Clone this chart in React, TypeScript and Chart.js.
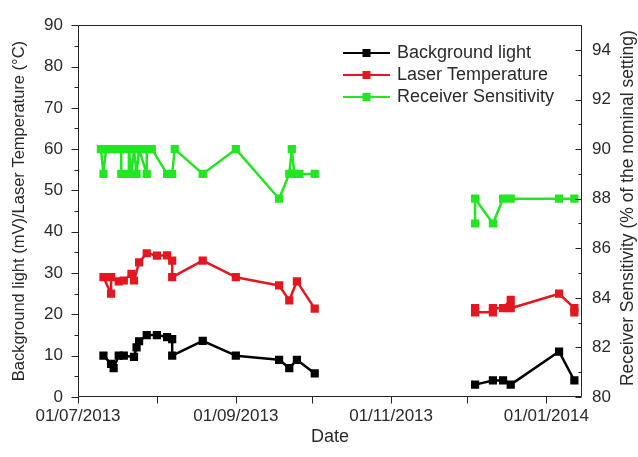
import React, { useEffect, useRef } from 'react';
import { Chart, registerables } from 'chart.js';

Chart.register(...registerables);

// ---------- data ----------
const START_DATE = '2013-07-01';
const END_DATE = '2014-01-15';

const xTickDates = ['2013-07-01', '2013-08-01', '2013-09-01', '2013-10-01', '2013-11-01', '2013-12-01', '2014-01-01'];
const xLabelDates = ['2013-07-01', '2013-09-01', '2013-11-01', '2014-01-01'];
const leftTicks = [0, 10, 20, 30, 40, 50, 60, 70, 80, 90];
const rightTicks = [80, 82, 84, 86, 88, 90, 92, 94];

const xTitle = 'Date';
const leftTitle = 'Background light (mV)/Laser Temperature (°C)';
const rightTitle = 'Receiver Sensitivity (% of the nominal setting)';

const seriesNames = ['Background light', 'Laser Temperature', 'Receiver Sensitivity'];
const seriesColors = ['#000000', '#e3171f', '#22e622'];

const bgDates = ['2013-07-11', '2013-07-14', '2013-07-15', '2013-07-17', '2013-07-19', '2013-07-23', '2013-07-24', '2013-07-25', '2013-07-28', '2013-08-01', '2013-08-05', '2013-08-07', '2013-08-07', '2013-08-19', '2013-09-01', '2013-09-18', '2013-09-22', '2013-09-25', '2013-10-02', '2013-12-04', '2013-12-11', '2013-12-15', '2013-12-18', '2014-01-06', '2014-01-12'];
const bgValues = [10, 8, 7, 10, 10, 9.7, 12, 13.5, 15, 15, 14.5, 14, 10, 13.6, 10, 9, 7, 9, 5.7, 3, 4, 4, 3, 11, 4];

const ltDates = ['2013-07-11', '2013-07-14', '2013-07-14', '2013-07-17', '2013-07-19', '2013-07-22', '2013-07-23', '2013-07-25', '2013-07-28', '2013-08-01', '2013-08-05', '2013-08-07', '2013-08-07', '2013-08-19', '2013-09-01', '2013-09-18', '2013-09-22', '2013-09-25', '2013-10-02', '2013-12-04', '2013-12-04', '2013-12-11', '2013-12-11', '2013-12-15', '2013-12-18', '2013-12-18', '2014-01-06', '2014-01-12', '2014-01-12'];
const ltValues = [29, 25, 29, 28, 28.2, 29.8, 28.2, 32.6, 34.8, 34.2, 34.3, 33, 29, 33, 29, 27, 23.4, 28, 21.4, 21.5, 20.5, 20.5, 21.5, 21.5, 23.5, 21.5, 25, 21.5, 20.5];

const rsDates = ['2013-07-10', '2013-07-11', '2013-07-12', '2013-07-14', '2013-07-16', '2013-07-18', '2013-07-18', '2013-07-21', '2013-07-21', '2013-07-22', '2013-07-23', '2013-07-24', '2013-07-25', '2013-07-28', '2013-07-28', '2013-07-30', '2013-08-05', '2013-08-07', '2013-08-08', '2013-08-19', '2013-09-01', '2013-09-18', '2013-09-22', '2013-09-23', '2013-09-24', '2013-09-26', '2013-10-02', '2013-12-04', '2013-12-04', '2013-12-11', '2013-12-15', '2013-12-18', '2014-01-06', '2014-01-12'];
const rsValues = [90, 89, 90, 90, 90, 90, 89, 89, 90, 89, 90, 89, 90, 89, 90, 90, 89, 89, 90, 89, 90, 88, 89, 90, 89, 89, 89, 87, 88, 87, 88, 88, 88, 88];

// ---------- helpers ----------
const FONT = '"Liberation Sans", Arial, sans-serif';
const TEXT = '#2a2a2a';
const AXIS = '#222222';

function dayOf(s: string): number {
  const [y, m, d] = s.split('-').map(Number);
  const [y0, m0, d0] = START_DATE.split('-').map(Number);
  return (Date.UTC(y, m - 1, d) - Date.UTC(y0, m0 - 1, d0)) / 86400000;
}
function fmtDate(s: string): string {
  const [y, m, d] = s.split('-');
  return `${d}/${m}/${y}`;
}
function pts(dates: string[], vals: number[]) {
  return dates.map((d, i) => ({ x: dayOf(d), y: vals[i] }));
}

const framePlugin = {
  id: 'frameTicksLegend',
  afterDraw(chart: any) {
    const { ctx, chartArea: a, scales } = chart;
    ctx.save();
    ctx.strokeStyle = AXIS;
    ctx.lineWidth = 1;
    const L = Math.round(a.left) + 0.5;
    const R = Math.round(a.right) - 0.5;
    const T = Math.round(a.top) + 0.5;
    const B = Math.round(a.bottom) - 0.5;
    ctx.beginPath();
    ctx.rect(L, T, R - L, B - T);
    // left ticks (outward)
    for (let v = 0; v <= 90; v += 5) {
      const y = Math.round(scales.y.getPixelForValue(v)) + 0.5;
      const len = v % 10 === 0 ? 7 : 4;
      ctx.moveTo(L - len, y);
      ctx.lineTo(L, y);
    }
    // right ticks (inward)
    for (let v = 80; v <= 95; v += 1) {
      const y = Math.round(scales.y1.getPixelForValue(v)) + 0.5;
      const len = v % 2 === 0 ? 6 : 3;
      ctx.moveTo(R - len, y);
      ctx.lineTo(R, y);
    }
    // bottom ticks (outward)
    xTickDates.forEach((d) => {
      const x = Math.round(scales.x.getPixelForValue(dayOf(d))) + 0.5;
      ctx.moveTo(x, B);
      ctx.lineTo(x, B + 7);
    });
    ctx.stroke();

    // right axis title, reading bottom-to-top
    ctx.save();
    ctx.translate(628, (a.top + a.bottom) / 2 - 3);
    ctx.rotate(-Math.PI / 2);
    ctx.font = `17.5px ${FONT}`;
    ctx.fillStyle = TEXT;
    ctx.textAlign = 'center';
    ctx.textBaseline = 'middle';
    ctx.fillText(rightTitle, 0, 0);
    ctx.restore();

    // legend
    const lx0 = 343, lx1 = 390, tx = 397;
    const rows = [53, 75, 97];
    ctx.font = `18px ${FONT}`;
    ctx.textBaseline = 'middle';
    ctx.textAlign = 'left';
    seriesNames.forEach((name, i) => {
      const y = rows[i];
      ctx.strokeStyle = seriesColors[i];
      ctx.lineWidth = 2;
      ctx.beginPath();
      ctx.moveTo(lx0, y);
      ctx.lineTo(lx1, y);
      ctx.stroke();
      ctx.fillStyle = seriesColors[i];
      ctx.fillRect((lx0 + lx1) / 2 - 4, y - 4, 8, 8);
      ctx.fillStyle = TEXT;
      ctx.fillText(name, tx, y);
    });
    ctx.restore();
  },
};

function gapColor(color: string) {
  return (c: any) => (c.p1.parsed.x - c.p0.parsed.x > 30 ? 'rgba(0,0,0,0)' : color);
}

function makeDataset(label: string, data: any[], color: string, axis: string) {
  return {
    label,
    data,
    yAxisID: axis,
    borderColor: color,
    backgroundColor: color,
    borderWidth: 2.5,
    borderJoinStyle: 'round',
    borderCapStyle: 'round',
    pointStyle: 'rect',
    pointRadius: 5.8,
    pointBorderWidth: 0,
    pointBackgroundColor: color,
    tension: 0,
    segment: { borderColor: gapColor(color) },
  };
}

export default function App() {
  const ref = useRef<HTMLCanvasElement | null>(null);
  useEffect(() => {
    if (!ref.current) return;
    const chart = new Chart(ref.current, {
      type: 'line',
      data: {
        datasets: [
          makeDataset(seriesNames[0], pts(bgDates, bgValues), seriesColors[0], 'y'),
          makeDataset(seriesNames[1], pts(ltDates, ltValues), seriesColors[1], 'y'),
          makeDataset(seriesNames[2], pts(rsDates, rsValues), seriesColors[2], 'y1'),
        ] as any,
      },
      options: {
        animation: false,
        responsive: false,
        layout: { padding: { top: 24, left: 0, right: 0, bottom: 0 } },
        plugins: { legend: { display: false }, tooltip: { enabled: false } },
        scales: {
          x: {
            type: 'linear',
            min: 0,
            max: dayOf(END_DATE),
            afterFit: (s: any) => { s.height = 60; },
            afterBuildTicks: (s: any) => { s.ticks = xTickDates.map((d) => ({ value: dayOf(d) })); },
            grid: { display: false, drawTicks: false },
            border: { display: false },
            ticks: {
              autoSkip: false,
              maxRotation: 0,
              padding: 9,
              color: TEXT,
              font: { family: FONT, size: 17 },
              callback: (v: any) => {
                const d = xLabelDates.find((s) => dayOf(s) === v);
                return d ? fmtDate(d) : '';
              },
            },
            title: { display: true, text: xTitle, color: TEXT, font: { family: FONT, size: 18 }, padding: { top: 0, bottom: 9 } },
          },
          y: {
            position: 'left',
            min: 0,
            max: 90,
            afterFit: (s: any) => { s.width = 78; },
            afterBuildTicks: (s: any) => { s.ticks = leftTicks.map((v) => ({ value: v })); },
            grid: { display: false, drawTicks: false },
            border: { display: false },
            ticks: { padding: 15, color: TEXT, font: { family: FONT, size: 17 } },
            title: { display: true, text: leftTitle, color: TEXT, font: { family: FONT, size: 16.5 }, padding: { top: 10, bottom: 0 } },
          },
          y1: {
            position: 'right',
            min: 80,
            max: 95,
            afterFit: (s: any) => { s.width = 56; },
            afterBuildTicks: (s: any) => { s.ticks = rightTicks.map((v) => ({ value: v })); },
            grid: { display: false, drawTicks: false },
            border: { display: false },
            ticks: { padding: 10, color: TEXT, font: { family: FONT, size: 17 } },
            title: { display: false },
          },
        },
      } as any,
      plugins: [framePlugin],
    });
    return () => chart.destroy();
  }, []);
  return (
    <canvas
      ref={ref}
      width={638}
      height={457}
      style={{ position: 'absolute', left: 0, top: 0, display: 'block', background: '#fff' }}
    />
  );
}
